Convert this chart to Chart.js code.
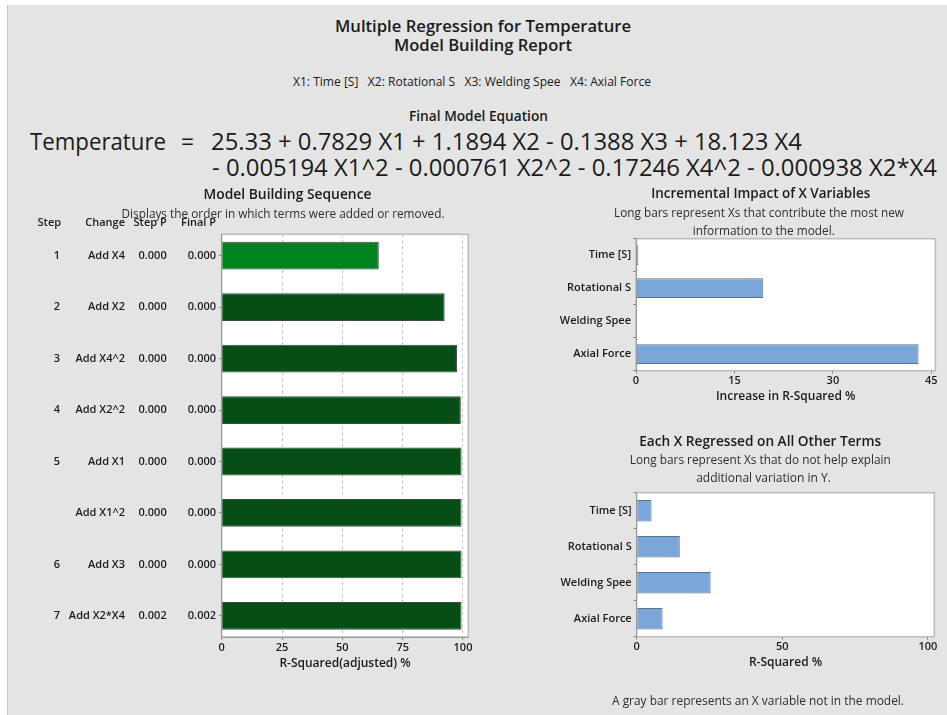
<!DOCTYPE html>
<html>
<head>
<meta charset="utf-8">
<script src="https://cdn.jsdelivr.net/npm/chart.js@4.4.1/dist/chart.umd.min.js"></script>
<style>
  body { margin:0; width:947px; height:715px; background:#fff; overflow:hidden; font-family:"Open Sans", sans-serif; color:#1b1b1b; }
  #panel { position:absolute; left:7px; top:5px; width:940px; height:710px; background:#e4e4e4; border-left:1px solid #c4c4c4; }
  .t { position:absolute; white-space:nowrap; transform-origin:0 50%; }
  canvas { position:absolute; }
</style>
</head>
<body>
<div id="panel"></div>

<div class="t" data-x="335" data-y="26" data-w="296" style="font-size:17px;font-weight:600">Multiple Regression for Temperature</div>
<div class="t" data-x="394" data-y="45" data-w="178" style="font-size:17px;font-weight:600">Model Building Report</div>
<div class="t" data-x="293" data-y="81" data-w="358" style="font-size:12px">X1: Time [S]&nbsp;&nbsp; X2: Rotational S&nbsp;&nbsp; X3: Welding Spee&nbsp;&nbsp; X4: Axial Force</div>
<div class="t" data-x="409" data-y="116" data-w="139" style="font-size:14px;font-weight:600">Final Model Equation</div>
<div class="t" data-x="30" data-y="141" data-w="136" style="font-size:24px">Temperature</div>
<div class="t" data-x="181" data-y="141" data-w="13" style="font-size:24px">=</div>
<div class="t" data-x="211" data-y="141" data-w="591" style="font-size:24px">25.33 + 0.7829 X1 + 1.1894 X2 - 0.1388 X3 + 18.123 X4</div>
<div class="t" data-x="212" data-y="167" data-w="725" style="font-size:24px">- 0.005194 X1^2 - 0.000761 X2^2 - 0.17246 X4^2 - 0.000938 X2*X4</div>

<canvas id="seq" width="480" height="490" style="left:0;top:181px"></canvas>
<canvas id="incr" width="427" height="224" style="left:520px;top:180px"></canvas>
<canvas id="other" width="427" height="290" style="left:520px;top:425px"></canvas>

<script>
// model building sequence
const steps = ['1', '2', '3', '4', '5', '', '6', '7'];
const changes = ['Add X4', 'Add X2', 'Add X4^2', 'Add X2^2', 'Add X1', 'Add X1^2', 'Add X3', 'Add X2*X4'];
const stepP = ['0.000', '0.000', '0.000', '0.000', '0.000', '0.000', '0.000', '0.002'];
const finalP = ['0.000', '0.000', '0.000', '0.000', '0.000', '0.000', '0.000', '0.002'];
const rsqAdj = [65.1, 92.4, 97.5, 99.1, 99.4, 99.4, 99.4, 99.4];
const seqTicks = [0, 25, 50, 75, 100];

// x variables
const xNames = ['Time [S]', 'Rotational S', 'Welding Spee', 'Axial Force'];
const incrRsq = [0.35, 19.4, 0.03, 43.05];
const incrTicks = [0, 15, 30, 45];
const otherRsq = [5.1, 14.8, 25.4, 8.9];
const otherTicks = [0, 50, 100];

const FONT = '"Open Sans", sans-serif';
Chart.defaults.font.family = FONT;
Chart.defaults.color = '#1b1b1b';

document.querySelectorAll('.t').forEach(el => {
  const fs = parseFloat(el.style.fontSize);
  const lh = Math.round(fs * 1.4);
  el.style.lineHeight = lh + 'px';
  el.style.height = lh + 'px';
  el.style.left = el.dataset.x + 'px';
  el.style.top = (el.dataset.y - lh / 2) + 'px';
  const w = el.getBoundingClientRect().width;
  el.style.transform = 'scaleX(' + (el.dataset.w / w) + ')';
});

const framePlugin = {
  id: 'frame',
  beforeDraw(chart) {
    const { ctx, chartArea: a } = chart;
    ctx.save();
    ctx.fillStyle = '#fff';
    ctx.fillRect(a.left, a.top, a.right - a.left, a.bottom - a.top);
    ctx.strokeStyle = '#bcbcbc';
    ctx.lineWidth = 1.5;
    ctx.strokeRect(a.left, a.top, a.right - a.left, a.bottom - a.top);
    ctx.restore();
  }
};

function textPlugin(getItems) {
  return {
    id: 'texts',
    afterDraw(chart) {
      const ctx = chart.ctx;
      ctx.save();
      ctx.textBaseline = 'middle';
      getItems(chart).forEach(t => {
        ctx.font = t.font;
        ctx.fillStyle = t.color || '#1b1b1b';
        ctx.textAlign = t.align || 'center';
        if (t.w) ctx.fillText(t.text, t.x, t.y, t.w);
        else ctx.fillText(t.text, t.x, t.y);
      });
      ctx.restore();
    }
  };
}

const fixedTicks = list => s => { s.ticks = list.map(v => ({ value: v })); };

const bold11 = '600 11px ' + FONT;
const bold14 = '600 14px ' + FONT;
const reg12 = '400 12px ' + FONT;

const tickFont = { size: 11, weight: '600' };
const titleFont = { size: 12, weight: '600' };

// left: sequence chart
new Chart(document.getElementById('seq'), {
  type: 'bar',
  data: {
    datasets: [{
      data: rsqAdj.map((v, i) => ({ x: v, y: i })),
      backgroundColor: rsqAdj.map((v, i) => i === 0 ? '#00831f' : '#054f17'),
      borderColor: '#3a4a3d',
      borderWidth: 1,
      categoryPercentage: 0.54,
      barPercentage: 1
    }]
  },
  options: {
    indexAxis: 'y',
    responsive: false,
    animation: false,
    layout: { padding: { top: 53.3, right: 11.7, left: 0, bottom: 0 } },
    plugins: { legend: { display: false }, tooltip: { enabled: false } },
    scales: {
      x: {
        min: 0, max: 102.2,
        afterBuildTicks: fixedTicks(seqTicks),
        ticks: { font: tickFont, padding: 1, maxRotation: 0 },
        grid: { color: '#c8c8c8', tickColor: '#8c8c8c', tickLength: 3 },
        border: { color: '#9a9a9a', dash: [3, 3] },
        title: { display: true, text: 'R-Squared(adjusted) %', font: titleFont, padding: 0 },
        afterFit: s => { s.height = 34; }
      },
      y: {
        type: 'linear', reverse: true, min: -0.415, max: 7.41, offset: false,
        afterBuildTicks: fixedTicks(changes.map((c, i) => i)),
        ticks: { display: false },
        grid: { drawOnChartArea: false, offset: false, tickLength: 3, color: '#8c8c8c' },
        border: { color: '#9a9a9a' },
        afterFit: s => { s.width = 221.7; }
      }
    }
  },
  plugins: [framePlugin, textPlugin(chart => {
    const y = chart.scales.y;
    const items = [
      { text: 'Model Building Sequence', x: 287.5, y: 14, w: 168, font: bold14 },
      { text: 'Step', x: 49.3, y: 41.7, font: bold11 },
      { text: 'Change', x: 125, y: 41.7, align: 'right', font: bold11 },
      { text: 'Step P', x: 166.7, y: 41.7, align: 'right', font: bold11 },
      { text: 'Final P', x: 216, y: 41.7, align: 'right', font: bold11 },
      { text: 'Displays the order in which terms were added or removed.', x: 283, y: 33.3, w: 323, font: reg12, color: '#2e2e2e' }
    ];
    changes.forEach((c, i) => {
      const py = y.getPixelForValue(i);
      items.push({ text: steps[i], x: 60, y: py, align: 'right', font: bold11 });
      items.push({ text: c, x: 125, y: py, align: 'right', font: bold11 });
      items.push({ text: stepP[i], x: 166.7, y: py, align: 'right', font: bold11 });
      items.push({ text: finalP[i], x: 216, y: py, align: 'right', font: bold11 });
    });
    return items;
  })]
});

function xChart(id, values, opts) {
  return new Chart(document.getElementById(id), {
    type: 'bar',
    data: {
      labels: xNames,
      datasets: [{
        data: values,
        backgroundColor: '#7ba6d9',
        borderColor: '#5f7189',
        borderWidth: 1,
        categoryPercentage: 0.6,
        barPercentage: 1
      }]
    },
    options: {
      indexAxis: 'y',
      responsive: false,
      animation: false,
      layout: { padding: opts.padding },
      plugins: { legend: { display: false }, tooltip: { enabled: false } },
      scales: {
        x: {
          min: 0, max: opts.max,
          afterBuildTicks: fixedTicks(opts.ticks),
          ticks: { font: tickFont, padding: 1, maxRotation: 0 },
          grid: { drawOnChartArea: false, tickLength: 3, color: '#8c8c8c' },
          border: { color: '#bcbcbc' },
          title: { display: true, text: opts.xTitle, font: titleFont, padding: 0 },
          afterFit: s => { s.height = 33.3; }
        },
        y: {
          ticks: { font: tickFont, padding: 2 },
          grid: { drawOnChartArea: false, tickLength: 3, color: '#8c8c8c' },
          border: { color: '#9a9a9a' },
          afterFit: s => { s.width = opts.yWidth; }
        }
      }
    },
    plugins: [framePlugin, textPlugin(() => opts.texts)]
  });
}

xChart('incr', incrRsq, {
  max: 45.6, ticks: incrTicks, xTitle: 'Increase in R-Squared %', yWidth: 116,
  padding: { top: 58.7, right: 11.7, left: 0, bottom: 0 },
  texts: [
    { text: 'Incremental Impact of X Variables', x: 240.7, y: 14, w: 219, font: bold14 },
    { text: 'Long bars represent Xs that contribute the most new', x: 239, y: 33.7, w: 290, font: reg12, color: '#2e2e2e' },
    { text: 'information to the model.', x: 243.8, y: 51.7, w: 142, font: reg12, color: '#2e2e2e' }
  ]
});

xChart('other', otherRsq, {
  max: 102.2, ticks: otherTicks, xTitle: 'R-Squared %', yWidth: 116.7,
  padding: { top: 67.7, right: 12.7, left: 0, bottom: 45 },
  texts: [
    { text: 'Each X Regressed on All Other Terms', x: 240.2, y: 17.3, w: 242, font: bold14 },
    { text: 'Long bars represent Xs that do not help explain', x: 240.3, y: 36, w: 261, font: reg12, color: '#2e2e2e' },
    { text: 'additional variation in Y.', x: 243.5, y: 53.3, w: 135, font: reg12, color: '#2e2e2e' },
    { text: 'A gray bar represents an X variable not in the model.', x: 238, y: 276.7, w: 292, font: reg12, color: '#2e2e2e' }
  ]
});
</script>
</body>
</html>
